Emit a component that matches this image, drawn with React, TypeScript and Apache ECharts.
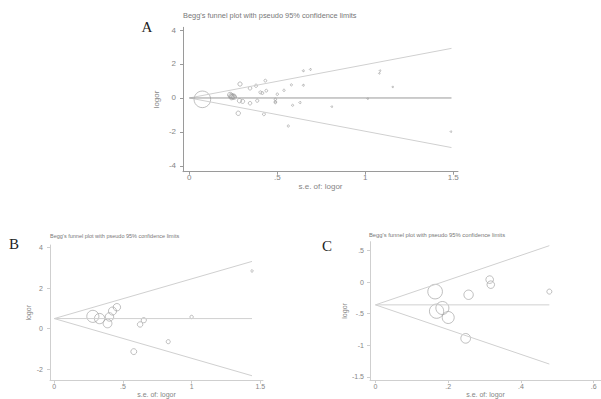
import React, { useEffect, useRef } from "react";
import * as echarts from "echarts";

// Panel A: study standard errors and log odds ratios
const seA = [0.074, 0.232, 0.238, 0.244, 0.25, 0.255, 0.24, 0.288, 0.345, 0.379, 0.432, 0.404, 0.415, 0.4375, 0.5, 0.538, 0.58, 0.648, 0.688, 0.648, 0.285, 0.303, 0.345, 0.386, 0.489, 0.489, 0.489, 0.587, 0.629, 0.81, 0.278, 0.424, 0.5625, 1.014, 1.08, 1.084, 1.156, 1.487];
const logorA = [-0.08, 0.18, 0.12, 0.08, 0.1, 0.06, 0.04, 0.82, 0.57, 0.72, 1.02, 0.33, 0.29, 0.43, 0.22, 0.45, 0.77, 1.6, 1.68, 0.75, -0.16, -0.2, -0.31, -0.16, -0.08, -0.22, -0.27, -0.43, -0.27, -0.51, -0.9, -0.96, -1.65, -0.04, 1.45, 1.61, 0.65, -1.98];
const centerA = 0;
const seMaxA = 1.49;
const upperEndA = 2.92;
const lowerEndA = -2.92;

// Panel B
const seB = [0.281, 0.33, 0.388, 0.402, 0.424, 0.456, 0.625, 0.652, 0.579, 0.83, 1.0, 1.44];
const logorB = [0.61, 0.5, 0.26, 0.58, 0.87, 1.06, 0.21, 0.42, -1.13, -0.64, 0.58, 2.85];
const centerB = 0.5;
const seMaxB = 1.44;
const upperEndB = 3.32;
const lowerEndB = -2.32;

// Panel C
const seC = [0.164, 0.168, 0.184, 0.2, 0.256, 0.248, 0.314, 0.317, 0.478];
const logorC = [-0.15, -0.46, -0.41, -0.56, -0.2, -0.89, 0.04, -0.04, -0.15];
const centerC = -0.36;
const seMaxC = 0.478;
const upperEndC = 0.577;
const lowerEndC = -1.297;

// Tick labels
const xTicksA = [0, 0.5, 1, 1.5];
const yTicksA = [-4, -2, 0, 2, 4];
const xTicksB = [0, 0.5, 1, 1.5];
const yTicksB = [-2, 0, 2, 4];
const xTicksC = [0, 0.2, 0.4, 0.6];
const yTicksC = [-1.5, -1, -0.5, 0, 0.5];

const TITLE = "Begg's funnel plot with pseudo 95% confidence limits";
const FONT = "Liberation Sans, Arial, sans-serif";
const LABEL = "#858585";

const fmt = (v: number) => {
  const s = String(Math.round(v * 1000) / 1000);
  return s.replace(/^(-?)0\./, "$1.");
};

function axisPair(
  gi: number,
  xr: [number, number],
  yr: [number, number],
  xt: number[],
  yt: number[],
  axisColor: string,
  fs: number,
  yGap: number,
  xGap: number,
  yMargin: number,
  xMargin: number
) {
  const common = (ticks: number[], margin: number) => ({
    axisLine: { show: true, onZero: false, lineStyle: { color: axisColor, width: 1 } },
    axisTick: { show: true, length: 3, customValues: ticks, lineStyle: { color: axisColor } },
    axisLabel: { show: true, customValues: ticks, formatter: fmt, color: LABEL, fontSize: fs, fontFamily: FONT, margin },
    splitLine: { show: false },
  });
  const x = {
    type: "value",
    gridIndex: gi,
    min: xr[0],
    max: xr[1],
    name: "s.e. of: logor",
    nameLocation: "middle",
    nameGap: xGap,
    nameTextStyle: { color: LABEL, fontSize: fs, fontFamily: FONT },
    ...common(xt, xMargin),
  };
  const y = {
    type: "value",
    gridIndex: gi,
    min: yr[0],
    max: yr[1],
    name: "logor",
    nameLocation: "middle",
    nameRotate: 90,
    nameGap: yGap,
    nameTextStyle: { color: LABEL, fontSize: fs, fontFamily: FONT },
    ...common(yt, yMargin),
  };
  return { x, y };
}

function panelSeries(
  gi: number,
  se: number[],
  lo: number[],
  center: number,
  seMax: number,
  up: number,
  low: number,
  k: number,
  centerColor: string
) {
  const lineBase = {
    type: "line",
    xAxisIndex: gi,
    yAxisIndex: gi,
    showSymbol: false,
    symbol: "none",
    silent: true,
  };
  return [
    { ...lineBase, data: [[0, center], [seMax, up]], lineStyle: { color: "#d0d0d0", width: 1 } },
    { ...lineBase, data: [[0, center], [seMax, low]], lineStyle: { color: "#d0d0d0", width: 1 } },
    { ...lineBase, data: [[0, center], [seMax, center]], lineStyle: { color: centerColor, width: 1 } },
    {
      type: "scatter",
      xAxisIndex: gi,
      yAxisIndex: gi,
      symbol: "circle",
      symbolSize: (v: number[]) => Math.max(1.5, k / v[0]),
      itemStyle: { color: "rgba(0,0,0,0)", borderColor: "#9a9a9a", borderWidth: 0.8 },
      data: se.map((s, i) => [s, lo[i]]),
    },
  ];
}

export default function App() {
  const ref = useRef<HTMLDivElement>(null);
  useEffect(() => {
    if (!ref.current) return;
    const chart = echarts.init(ref.current, null, { renderer: "svg" });
    const a = axisPair(0, [-0.036, 1.527], [-4.34, 4.16], xTicksA, yTicksA, "#9a9a9a", 8, 23, 8, 7, 2);
    const b = axisPair(1, [-0.031, 1.52], [-2.56, 4.13], xTicksB, yTicksB, "#cfcfcf", 7, 18, 9, 7, 2.5);
    const c = axisPair(2, [-0.015, 0.62], [-1.551, 0.64], xTicksC, yTicksC, "#cfcfcf", 7, 19, 9, 6, 3);
    chart.setOption({
      animation: false,
      backgroundColor: "#ffffff",
      title: [
        { text: TITLE, left: 183, top: 12, textStyle: { fontSize: 7.4, color: "#777", fontWeight: "normal", fontFamily: FONT }, padding: 0 },
        { text: TITLE, left: 50, top: 233, textStyle: { fontSize: 5.5, color: "#777", fontWeight: "normal", fontFamily: FONT }, padding: 0 },
        { text: TITLE, left: 369, top: 232, textStyle: { fontSize: 5.8, color: "#777", fontWeight: "normal", fontFamily: FONT }, padding: 0 },
      ],
      grid: [
        { left: 183, top: 27.3, width: 275, height: 144.4, containLabel: false },
        { left: 50, top: 245, width: 213, height: 139.3, containLabel: false },
        { left: 370, top: 241.7, width: 236, height: 141.6, containLabel: false },
      ],
      xAxis: [a.x, b.x, c.x],
      yAxis: [a.y, b.y, c.y],
      series: [
        ...panelSeries(0, seA, logorA, centerA, seMaxA, upperEndA, lowerEndA, 1.23, "#9a9a9a"),
        ...panelSeries(1, seB, logorB, centerB, seMaxB, upperEndB, lowerEndB, 3.4, "#d0d0d0"),
        ...panelSeries(2, seC, logorC, centerC, seMaxC, upperEndC, lowerEndC, 2.4, "#d0d0d0"),
      ],
      graphic: [
        { type: "text", x: 147, y: 27, style: { text: "A", font: "15px 'Liberation Serif', serif", fill: "#222", align: "center", verticalAlign: "middle" } },
        { type: "text", x: 14, y: 244, style: { text: "B", font: "15px 'Liberation Serif', serif", fill: "#222", align: "center", verticalAlign: "middle" } },
        { type: "text", x: 327, y: 246, style: { text: "C", font: "15px 'Liberation Serif', serif", fill: "#222", align: "center", verticalAlign: "middle" } },
      ],
    });
    return () => chart.dispose();
  }, []);
  return (
    <div
      ref={ref}
      style={{ position: "fixed", left: 0, top: 0, width: 601, height: 399, background: "#fff" }}
    />
  );
}
